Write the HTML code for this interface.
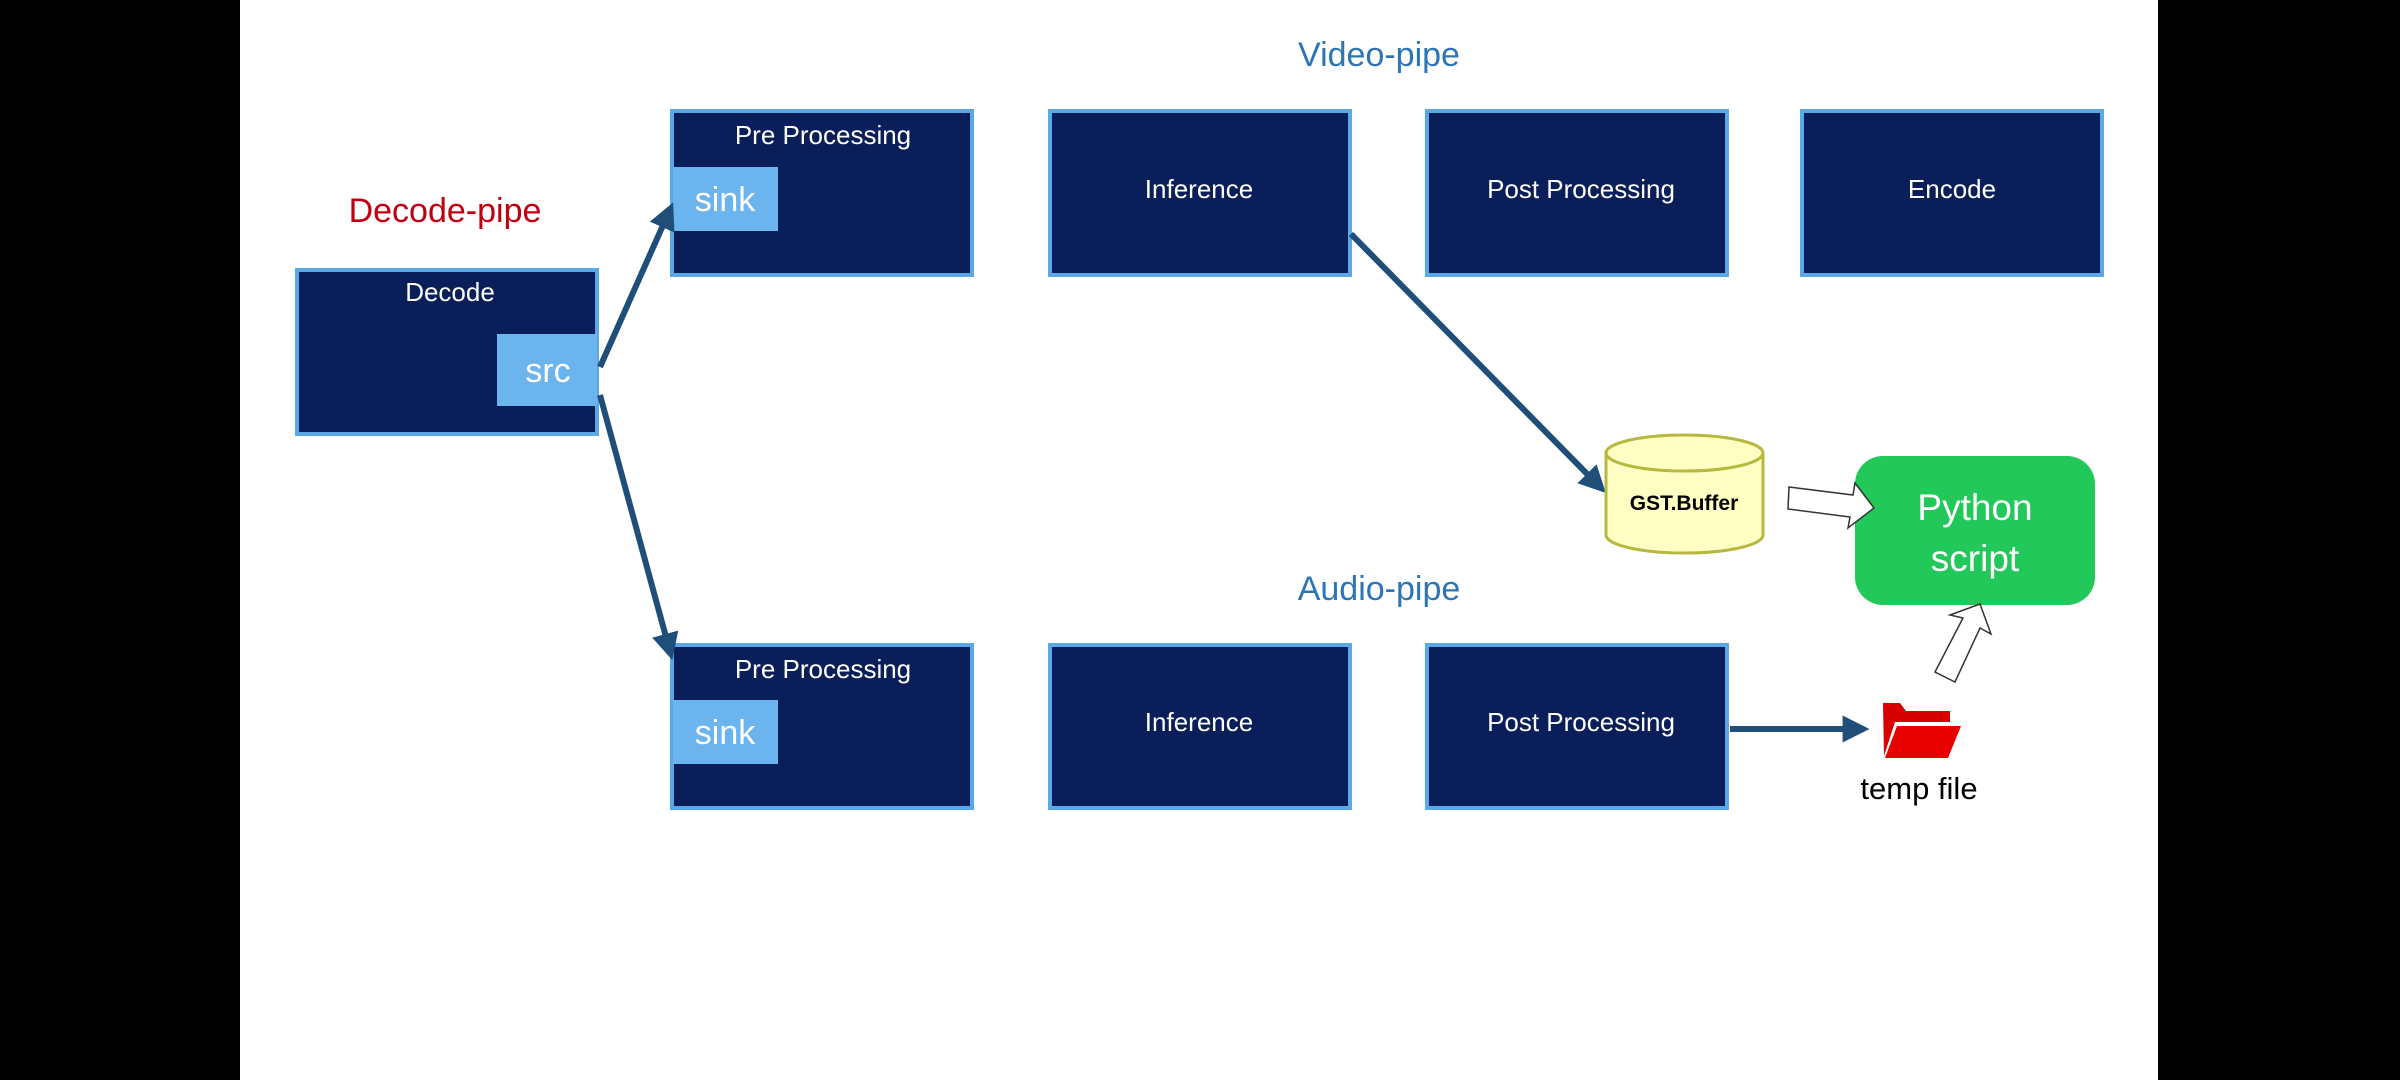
<!DOCTYPE html>
<html><head><meta charset="utf-8"><style>
body{margin:0;width:2400px;height:1080px;background:#000;overflow:hidden;font-family:"Liberation Sans",sans-serif}
</style></head><body>
<svg width="2400" height="1080" xmlns="http://www.w3.org/2000/svg" style="position:absolute;left:0;top:0">
<rect x="0" y="0" width="2400" height="1080" fill="#000"/>
<rect x="240" y="0" width="1918" height="1080" fill="#fff"/>
<defs>
<marker id="ah" markerWidth="4.5" markerHeight="4.5" refX="2.4" refY="2.25" orient="auto" markerUnits="strokeWidth"><path d="M0,0 L4.5,2.25 L0,4.5 z" fill="#1f4e79"/></marker>
</defs>
<g font-family="Liberation Sans, sans-serif" text-anchor="middle">
<text x="1379" y="66" font-size="34" fill="#2e75b6">Video-pipe</text>
<text x="1379" y="600" font-size="34" fill="#2e75b6">Audio-pipe</text>
<text x="445" y="222" font-size="34" fill="#c00010">Decode-pipe</text>

<g stroke="#5aa9e6" stroke-width="4" fill="#0a1f5a">
<rect x="297" y="270" width="300" height="164"/>
<rect x="672" y="111" width="300" height="164"/>
<rect x="1050" y="111" width="300" height="164"/>
<rect x="1427" y="111" width="300" height="164"/>
<rect x="1802" y="111" width="300" height="164"/>
<rect x="672" y="645" width="300" height="163"/>
<rect x="1050" y="645" width="300" height="163"/>
<rect x="1427" y="645" width="300" height="163"/>
</g>
<g fill="#6cb4ee">
<rect x="497" y="334" width="100" height="72"/>
<rect x="673" y="167" width="105" height="64"/>
<rect x="673" y="700" width="105" height="64"/>
</g>
<g fill="#fff" font-size="26">
<text x="450" y="301">Decode</text>
<text x="823" y="144">Pre Processing</text>
<text x="1199" y="198">Inference</text>
<text x="1581" y="198">Post Processing</text>
<text x="1952" y="198">Encode</text>
<text x="823" y="678">Pre Processing</text>
<text x="1199" y="731">Inference</text>
<text x="1581" y="731">Post Processing</text>
</g>
<g fill="#fff" font-size="34">
<text x="548" y="382">src</text>
<text x="725" y="211">sink</text>
<text x="725" y="744">sink</text>
</g>
</g>

<g stroke="#1f4e79" stroke-width="6" fill="none" marker-end="url(#ah)">
<line x1="600" y1="367" x2="668" y2="214"/>
<line x1="600" y1="395" x2="669" y2="648"/>
<line x1="1351" y1="234" x2="1597" y2="484"/>
<line x1="1730" y1="729" x2="1857" y2="729"/>
</g>

<!-- cylinder -->
<path d="M1606,453 L1606,535 A78.5,18 0 0 0 1763,535 L1763,453" fill="#ffffc4" stroke="#b7b840" stroke-width="3"/>
<ellipse cx="1684.5" cy="453" rx="78.5" ry="18" fill="#ffffc4" stroke="#b7b840" stroke-width="3"/>
<text x="1684" y="510" font-family="Liberation Sans, sans-serif" font-size="21" font-weight="bold" text-anchor="middle" fill="#000">GST.Buffer</text>

<rect x="1855" y="456" width="240" height="149" rx="28" fill="#22c95a"/>
<g font-family="Liberation Sans, sans-serif" font-size="37" fill="#fff" text-anchor="middle">
<text x="1975" y="520">Python</text>
<text x="1975" y="571">script</text>
</g>

<!-- hollow arrows -->
<path d="M1789,487 L1853,495 L1855,483 L1874,508 L1848,528 L1850,517 L1788,509 z" fill="#fff" stroke="#333" stroke-width="1.5"/>
<path d="M1935,672 L1963,618 L1950,615 L1980,604 L1991,634 L1980,628 L1955,682 z" fill="#fff" stroke="#333" stroke-width="1.5"/>

<!-- folder -->
<path d="M1883,703 L1900,703 L1906,711 L1950,711 L1950,722 L1895,722 L1884,756 z" fill="#d80000"/>
<path d="M1897,726 L1961,726 L1948,758 L1885,758 z" fill="#e80000"/>
<text x="1919" y="799" font-family="Liberation Sans, sans-serif" font-size="31" text-anchor="middle" fill="#000">temp file</text>
</svg>
</body></html>
